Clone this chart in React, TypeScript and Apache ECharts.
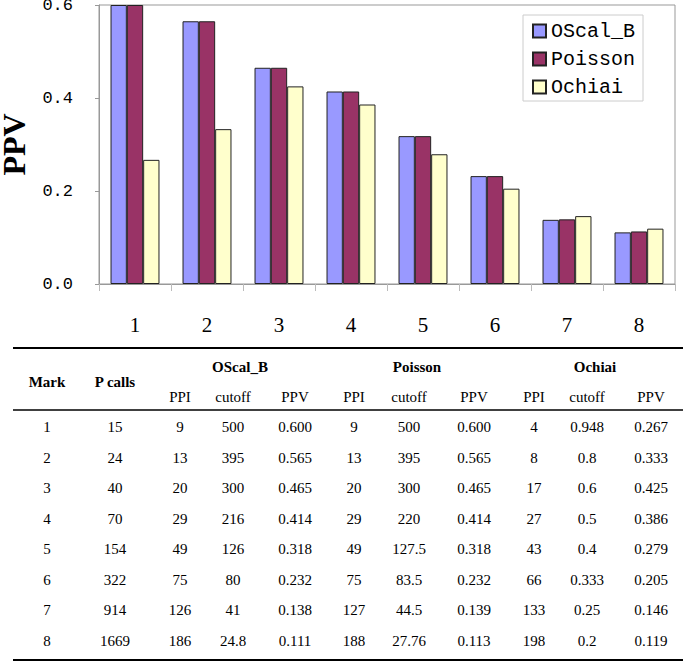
import React, { useEffect, useRef } from "react";
import * as echarts from "echarts";

const categories = ["1", "2", "3", "4", "5", "6", "7", "8"];
const seriesNames = ["OScal_B", "Poisson", "Ochiai"];
const marks = [1, 2, 3, 4, 5, 6, 7, 8];
const pCalls = [15, 24, 40, 70, 154, 322, 914, 1669];
const oscalPPI = [9, 13, 20, 29, 49, 75, 126, 186];
const oscalCutoff = [500, 395, 300, 216, 126, 80, 41, 24.8];
const oscalPPV = [0.6, 0.565, 0.465, 0.414, 0.318, 0.232, 0.138, 0.111];
const poissonPPI = [9, 13, 20, 29, 49, 75, 127, 188];
const poissonCutoff = [500, 395, 300, 220, 127.5, 83.5, 44.5, 27.76];
const poissonPPV = [0.6, 0.565, 0.465, 0.414, 0.318, 0.232, 0.139, 0.113];
const ochiaiPPI = [4, 8, 17, 27, 43, 66, 133, 198];
const ochiaiCutoff = [0.948, 0.8, 0.6, 0.5, 0.4, 0.333, 0.25, 0.2];
const ochiaiPPV = [0.267, 0.333, 0.425, 0.386, 0.279, 0.205, 0.146, 0.119];
const subHeaders = ["PPI", "cutoff", "PPV"];

const colors = ["#9999FF", "#993366", "#FFFFCC"];

const SERIF = '"Liberation Serif", "Times New Roman", serif';
const MONO = '"Liberation Mono", "DejaVu Sans Mono", monospace';

function buildTable(): any[] {
  const els: any[] = [];
  const left = 13;
  const right = 683;
  const rowY0 = 427;
  const rowStep = 30.57;
  const fmt3 = (v: number) => v.toFixed(3);
  const columns: { x: number; vals: string[] }[] = [
    { x: 47, vals: marks.map(String) },
    { x: 115, vals: pCalls.map(String) },
    { x: 180, vals: oscalPPI.map(String) },
    { x: 233, vals: oscalCutoff.map(String) },
    { x: 295, vals: oscalPPV.map(fmt3) },
    { x: 354, vals: poissonPPI.map(String) },
    { x: 409, vals: poissonCutoff.map(String) },
    { x: 474, vals: poissonPPV.map(fmt3) },
    { x: 534, vals: ochiaiPPI.map(String) },
    { x: 587, vals: ochiaiCutoff.map(String) },
    { x: 651, vals: ochiaiPPV.map(fmt3) },
  ];
  const txt = (text: string, x: number, y: number, bold = false) => ({
    type: "text",
    x,
    y,
    silent: true,
    style: {
      text,
      fill: "#000",
      font: `${bold ? "bold " : ""}15px ${SERIF}`,
      textAlign: "center",
      textVerticalAlign: "middle",
    },
  });
  const line = (y: number, w: number) => ({
    type: "line",
    silent: true,
    shape: { x1: left, y1: y, x2: right, y2: y },
    style: { stroke: "#000", lineWidth: w },
  });
  els.push(line(348, 2));
  els.push(line(410, 1.5));
  els.push(line(660, 2));
  els.push(txt("Mark", 47, 382, true));
  els.push(txt("P calls", 115, 382, true));
  const groupX = [240, 417, 595];
  seriesNames.forEach((n, i) => els.push(txt(n, groupX[i], 367, true)));
  for (let g = 0; g < 3; g++) {
    for (let s = 0; s < 3; s++) {
      els.push(txt(subHeaders[s], columns[2 + g * 3 + s].x, 397));
    }
  }
  columns.forEach((c) => {
    c.vals.forEach((v, r) => els.push(txt(v, c.x, rowY0 + r * rowStep)));
  });
  return els;
}

export default function App() {
  const ref = useRef<HTMLDivElement>(null);
  useEffect(() => {
    if (!ref.current) return;
    const chart = echarts.init(ref.current, undefined, { renderer: "svg" });
    const values = [oscalPPV, poissonPPV, ochiaiPPV];
    chart.setOption({
      animation: false,
      backgroundColor: "#fff",
      grid: {
        left: 99,
        right: 10,
        top: 5,
        bottom: 378,
        containLabel: false,
        outerBoundsMode: "none",
        show: true,
        borderColor: "#999",
        borderWidth: 1,
      },
      legend: {
        data: seriesNames,
        orient: "vertical",
        left: 523,
        top: 15,
        padding: [6, 8, 4, 9],
        itemWidth: 13,
        itemHeight: 13,
        itemGap: 8,
        itemTextGap: 7,
        icon: "rect",
        borderColor: "#ccc",
        borderWidth: 1,
        backgroundColor: "#fff",
        textStyle: { fontFamily: MONO, fontSize: 20, color: "#000", lineHeight: 20 },
      },
      xAxis: {
        type: "category",
        data: categories,
        axisLine: { show: true, lineStyle: { color: "#999" } },
        axisTick: { show: true, length: 7, lineStyle: { color: "#bbb" } },
        axisLabel: { fontFamily: SERIF, fontSize: 21, color: "#000", margin: 30 },
      },
      yAxis: {
        type: "value",
        min: 0,
        max: 0.6,
        interval: 0.2,
        name: "PPV",
        nameLocation: "middle",
        nameGap: 73,
        nameRotate: 90,
        nameTextStyle: {
          fontFamily: SERIF,
          fontWeight: "bold",
          fontSize: 32,
          lineHeight: 24,
          color: "#000",
        },
        axisLine: { show: true, lineStyle: { color: "#999" } },
        axisTick: { show: true, length: 4, lineStyle: { color: "#999" } },
        splitLine: { show: false },
        axisLabel: {
          fontFamily: MONO,
          fontSize: 17,
          color: "#000",
          margin: 26,
          formatter: (v: number) => v.toFixed(1),
        },
      },
      series: seriesNames.map((name, i) => ({
        name,
        type: "bar",
        data: values[i],
        barGap: "0%",
        barCategoryGap: "32%",
        itemStyle: { color: colors[i], borderColor: "#222", borderWidth: 1 },
      })),
      graphic: buildTable(),
    });
    return () => chart.dispose();
  }, []);
  return (
    <div
      ref={ref}
      style={{ position: "absolute", left: 0, top: 0, width: 685, height: 662 }}
    />
  );
}
